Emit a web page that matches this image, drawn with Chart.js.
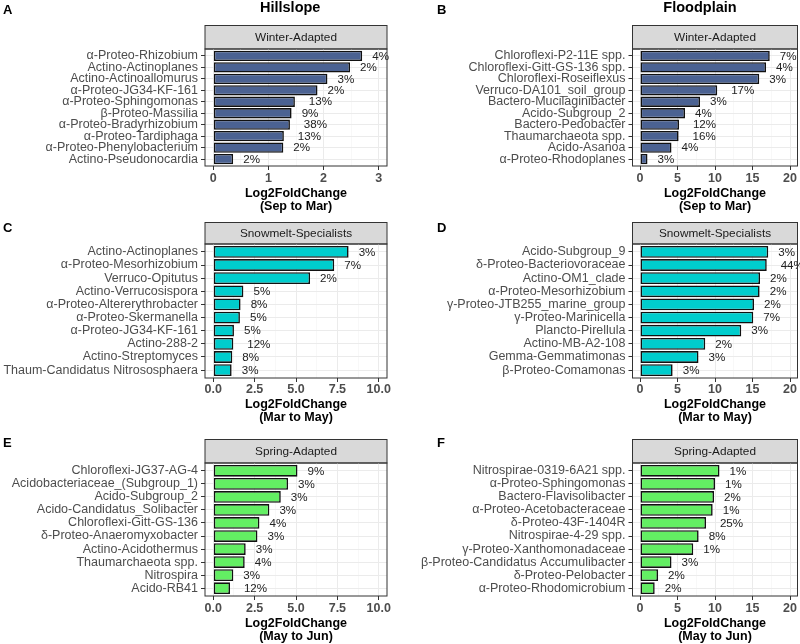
<!DOCTYPE html>
<html><head><meta charset="utf-8">
<script src="https://cdn.jsdelivr.net/npm/chart.js@4.4.1/dist/chart.umd.min.js"></script>
<style>
body{margin:0;background:#fff;}
#wrap{position:relative;width:800px;height:644px;overflow:hidden;background:#fff;font-family:'Liberation Sans',Arial,sans-serif;}
canvas{position:absolute;}
.t{position:absolute;font-weight:bold;color:#000;white-space:nowrap;line-height:1;}
</style></head><body>
<div id="wrap">
 <canvas id="cA" width="400" height="215" style="left:0;top:0"></canvas>
 <canvas id="cB" width="400" height="215" style="left:400px;top:0"></canvas>
 <canvas id="cC" width="400" height="215" style="left:0;top:215px"></canvas>
 <canvas id="cD" width="400" height="215" style="left:400px;top:215px"></canvas>
 <canvas id="cE" width="400" height="214" style="left:0;top:430px"></canvas>
 <canvas id="cF" width="400" height="214" style="left:400px;top:430px"></canvas>
 <div class="t" style="left:3px;top:3px;font-size:13px">A</div>
 <div class="t" style="left:437px;top:3px;font-size:13px">B</div>
 <div class="t" style="left:3px;top:221px;font-size:13px">C</div>
 <div class="t" style="left:437px;top:221px;font-size:13px">D</div>
 <div class="t" style="left:3px;top:436px;font-size:13px">E</div>
 <div class="t" style="left:437px;top:436px;font-size:13px">F</div>
 <div class="t" style="left:260px;top:0px;font-size:14.5px;width:60px;text-align:center">Hillslope</div>
 <div class="t" style="left:660px;top:0px;font-size:14.5px;width:80px;text-align:center">Floodplain</div>
</div>
<script>
// ---------- DATA ----------
const catsA = ["α-Proteo-Rhizobium","Actino-Actinoplanes","Actino-Actinoallomurus","α-Proteo-JG34-KF-161","α-Proteo-Sphingomonas","β-Proteo-Massilia","α-Proteo-Bradyrhizobium","α-Proteo-Tardiphaga","α-Proteo-Phenylobacterium","Actino-Pseudonocardia"];
const valsA = [2.70,2.48,2.07,1.89,1.48,1.42,1.39,1.28,1.27,0.36];
const pctA  = ["4%","2%","3%","2%","13%","9%","38%","13%","2%","2%"];

const catsB = ["Chloroflexi-P2-11E spp.","Chloroflexi-Gitt-GS-136 spp.","Chloroflexi-Roseiflexus","Verruco-DA101_soil_group","Bactero-Mucilaginibacter","Acido-Subgroup_2","Bactero-Pedobacter","Thaumarchaeota spp.","Acido-Asanoa","α-Proteo-Rhodoplanes"];
const valsB = [17.3,16.8,15.9,10.3,8.0,6.0,5.2,5.15,4.2,1.0];
const pctB  = ["7%","4%","3%","17%","3%","4%","12%","16%","4%","3%"];

const catsC = ["Actino-Actinoplanes","α-Proteo-Mesorhizobium","Verruco-Opitutus","Actino-Verrucosispora","α-Proteo-Altererythrobacter","α-Proteo-Skermanella","α-Proteo-JG34-KF-161","Actino-288-2","Actino-Streptomyces","Thaum-Candidatus Nitrososphaera"];
const valsC = [8.18,7.31,5.85,1.82,1.65,1.61,1.25,1.21,1.15,1.11];
const pctC  = ["3%","7%","2%","5%","8%","5%","5%","12%","8%","3%"];

const catsD = ["Acido-Subgroup_9","δ-Proteo-Bacteriovoraceae","Actino-OM1_clade","α-Proteo-Mesorhizobium","γ-Proteo-JTB255_marine_group","γ-Proteo-Marinicella","Plancto-Pirellula","Actino-MB-A2-108","Gemma-Gemmatimonas","β-Proteo-Comamonas"];
const valsD = [17.1,16.9,16.0,15.95,15.2,15.1,13.5,8.7,7.8,4.35];
const pctD  = ["3%","44%","2%","2%","2%","7%","3%","2%","3%","3%"];

const catsE = ["Chloroflexi-JG37-AG-4","Acidobacteriaceae_(Subgroup_1)","Acido-Subgroup_2","Acido-Candidatus_Solibacter","Chloroflexi-Gitt-GS-136","δ-Proteo-Anaeromyxobacter","Actino-Acidothermus","Thaumarchaeota spp.","Nitrospira","Acido-RB41"];
const valsE = [5.09,4.52,4.08,3.39,2.79,2.67,1.96,1.90,1.21,1.01];
const pctE  = ["9%","3%","3%","3%","4%","3%","3%","4%","3%","12%"];

const catsF = ["Nitrospirae-0319-6A21 spp.","α-Proteo-Sphingomonas","Bactero-Flavisolibacter","α-Proteo-Acetobacteraceae","δ-Proteo-43F-1404R","Nitrospirae-4-29 spp.","γ-Proteo-Xanthomonadaceae","β-Proteo-Candidatus Accumulibacter","δ-Proteo-Pelobacter","α-Proteo-Rhodomicrobium"];
const valsF = [10.6,10.0,9.87,9.69,8.8,7.82,7.1,4.2,2.4,1.96];
const pctF  = ["1%","1%","2%","1%","25%","8%","1%","3%","2%","2%"];

const ticks3  = [0,1,2,3];          const ticks3Labels  = ["0","1","2","3"];
const minors3 = [0.5,1.5,2.5];
const ticks10 = [0,2.5,5,7.5,10];   const ticks10Labels = ["0.0","2.5","5.0","7.5","10.0"];
const minors10 = [1.25,3.75,6.25,8.75];
const ticks20 = [0,5,10,15,20];     const ticks20Labels = ["0","5","10","15","20"];
const minors20 = [2.5,7.5,12.5,17.5];

const stripWinter = "Winter-Adapted", stripSnow = "Snowmelt-Specialists", stripSpring = "Spring-Adapted";
const titleSepMar = ["Log2FoldChange","(Sep to Mar)"];
const titleMarMay = ["Log2FoldChange","(Mar to May)"];
const titleMayJun = ["Log2FoldChange","(May to Jun)"];

// ---------- STYLE ----------
const FONT = "'Liberation Sans', Arial, sans-serif";
Chart.defaults.font.family = FONT;
const colWinter = "#4B6292", colSnow = "#00CDCD", colSpring = "#63EF63";

const panelPlugin = {
  id: 'panel',
  beforeDraw(chart, args, o) {
    const {ctx, chartArea: a} = chart;
    ctx.save();
    ctx.fillStyle = '#fff';
    ctx.fillRect(a.left, a.top, a.right - a.left, a.bottom - a.top);
    const y0 = Math.round(a.top - o.stripH) + 0.5;
    ctx.fillStyle = '#D9D9D9';
    ctx.fillRect(a.left, y0, a.right - a.left, a.top - y0);
    ctx.strokeStyle = '#333'; ctx.lineWidth = 1;
    ctx.strokeRect(a.left, y0, a.right - a.left, a.top - y0);
    ctx.fillStyle = '#1A1A1A';
    ctx.font = "11.8px " + FONT;
    ctx.textAlign = 'center'; ctx.textBaseline = 'middle';
    ctx.fillText(o.strip, (a.left + a.right) / 2, (y0 + a.top) / 2 + 0.5);
    ctx.restore();
  },
  afterDatasetsDraw(chart, args, o) {
    const {ctx} = chart;
    const meta = chart.getDatasetMeta(0);
    ctx.save();
    ctx.font = "11.6px " + FONT;
    ctx.fillStyle = '#222';
    ctx.textAlign = 'left'; ctx.textBaseline = 'middle';
    meta.data.forEach((bar, i) => {
      const t = o.labels[i];
      const w = ctx.measureText(t).width;
      ctx.fillText(t, bar.x + 0.6 * w, bar.y + 0.5);
    });
    ctx.restore();
  },
  afterDraw(chart) {
    const {ctx, chartArea: a} = chart;
    ctx.save();
    ctx.strokeStyle = '#333'; ctx.lineWidth = 1;
    ctx.strokeRect(a.left, a.top, a.right - a.left, a.bottom - a.top);
    ctx.restore();
  }
};

function makePanel(id, c) {
  const H = c.H, W = 400;
  const major = c.ticks, allTicks = c.ticks.concat(c.minors);
  const isMajor = ctx => ctx.tick && major.indexOf(ctx.tick.value) >= 0;
  new Chart(document.getElementById(id), {
    type: 'bar',
    data: {
      datasets: [{
        data: c.vals.map((v, i) => ({x: v, y: i + 1})),
        backgroundColor: c.color,
        borderColor: '#111',
        borderWidth: 1.6,
        borderSkipped: false,
        barPercentage: 0.9,
        categoryPercentage: 1
      }]
    },
    options: {
      indexAxis: 'y',
      responsive: false,
      animation: false,
      events: [],
      layout: {padding: {left: 0, top: c.T, right: W - c.R, bottom: 0}},
      plugins: {
        legend: {display: false},
        tooltip: {enabled: false},
        panel: {strip: c.strip, stripH: c.stripH, labels: c.pct}
      },
      scales: {
        x: {
          type: 'linear', min: c.xmin, max: c.xmax, bounds: 'data', offset: false,
          afterBuildTicks: s => { s.ticks = allTicks.map(v => ({value: v})); },
          afterFit: s => { s.height = H - c.B; },
          ticks: {
            autoSkip: false, maxRotation: 0, minRotation: 0, padding: c.tickPad,
            color: '#4D4D4D',
            font: {size: 12.5, weight: 'bold', lineHeight: 1.1},
            callback: v => { const i = major.indexOf(v); return i >= 0 ? c.tickLabels[i] : ''; }
          },
          grid: {
            offset: false,
            color: ctx => isMajor(ctx) ? '#EBEBEB' : '#F3F3F3',
            lineWidth: ctx => isMajor(ctx) ? 1 : 0.6,
            tickLength: 4,
            tickColor: ctx => isMajor(ctx) ? '#333' : 'rgba(0,0,0,0)'
          },
          border: {display: false},
          title: {
            display: true, text: c.title, color: '#000',
            font: {size: 12.5, weight: 'bold', lineHeight: 1.05},
            padding: {top: 0, bottom: c.titlePad}
          }
        },
        y: {
          type: 'linear', min: 0.4, max: c.cats.length + 0.6, reverse: true, bounds: 'data', offset: false,
          afterBuildTicks: s => { s.ticks = c.cats.map((_, i) => ({value: i + 1})); },
          afterFit: s => { s.width = c.L; },
          ticks: {
            autoSkip: false, padding: 3, color: '#4D4D4D',
            font: {size: 12.5, lineHeight: 1},
            callback: v => c.cats[v - 1]
          },
          grid: {offset: false, color: '#EBEBEB', lineWidth: 1, tickLength: 4, tickColor: '#333'},
          border: {display: false}
        }
      }
    },
    plugins: [panelPlugin]
  });
}

const leftCol  = {L: 205, R: 387};
const rightCol = {L: 232.5, R: 397.5};
const row1 = {H: 215, T: 49, B: 166, stripH: 24, titlePad: 1.5, tickPad: 2};
const row2 = {H: 215, T: 29, B: 163, stripH: 22.5, titlePad: 5.5, tickPad: 1};
const row3 = {H: 214, T: 33, B: 166, stripH: 24.5, titlePad: 0.5, tickPad: 1.5};

makePanel('cA', Object.assign({}, leftCol, row1, {cats: catsA, vals: valsA, pct: pctA, color: colWinter, strip: stripWinter, title: titleSepMar, ticks: ticks3, tickLabels: ticks3Labels, minors: minors3, xmin: -0.15, xmax: 3.15}));
makePanel('cB', Object.assign({}, rightCol, row1, {cats: catsB, vals: valsB, pct: pctB, color: colWinter, strip: stripWinter, title: titleSepMar, ticks: ticks20, tickLabels: ticks20Labels, minors: minors20, xmin: -1, xmax: 21}));
makePanel('cC', Object.assign({}, leftCol, row2, {cats: catsC, vals: valsC, pct: pctC, color: colSnow, strip: stripSnow, title: titleMarMay, ticks: ticks10, tickLabels: ticks10Labels, minors: minors10, xmin: -0.5, xmax: 10.5}));
makePanel('cD', Object.assign({}, rightCol, row2, {cats: catsD, vals: valsD, pct: pctD, color: colSnow, strip: stripSnow, title: titleMarMay, ticks: ticks20, tickLabels: ticks20Labels, minors: minors20, xmin: -1, xmax: 21}));
makePanel('cE', Object.assign({}, leftCol, row3, {cats: catsE, vals: valsE, pct: pctE, color: colSpring, strip: stripSpring, title: titleMayJun, ticks: ticks10, tickLabels: ticks10Labels, minors: minors10, xmin: -0.5, xmax: 10.5}));
makePanel('cF', Object.assign({}, rightCol, row3, {cats: catsF, vals: valsF, pct: pctF, color: colSpring, strip: stripSpring, title: titleMayJun, ticks: ticks20, tickLabels: ticks20Labels, minors: minors20, xmin: -1, xmax: 21}));
</script>
</body></html>
